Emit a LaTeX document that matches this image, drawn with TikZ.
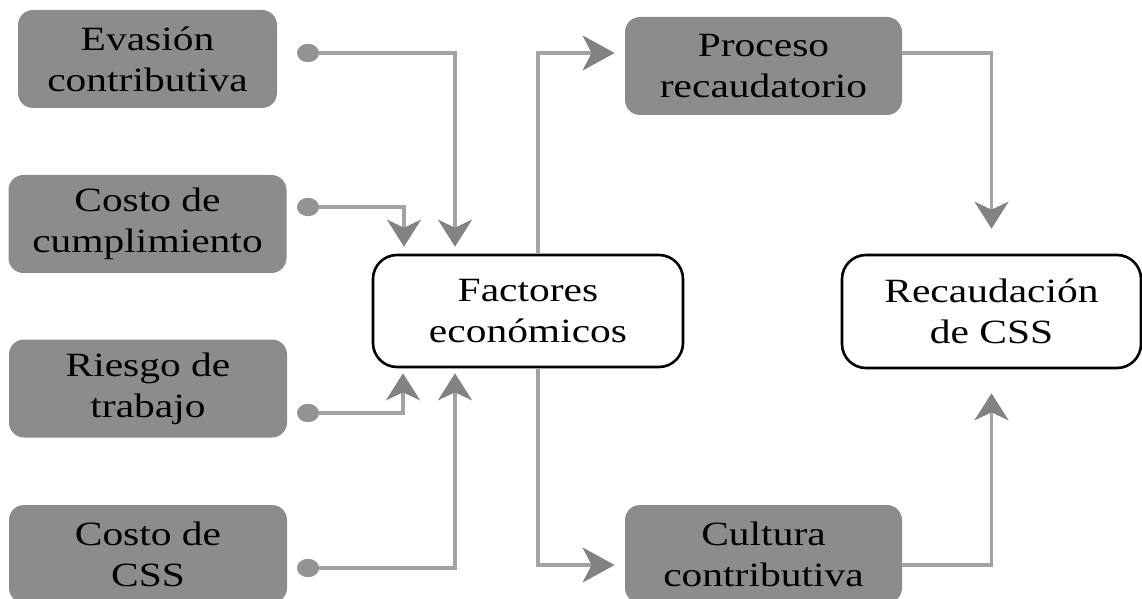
\documentclass[tikz,border=0pt]{standalone}
\usepackage{fontspec}
\setmainfont{Liberation Serif}[FakeStretch=1.22]
\usepackage{xcolor}
\usetikzlibrary{arrows.meta,calc}

\definecolor{boxgray}{RGB}{140,140,140}
\definecolor{linegray}{RGB}{163,163,163}
\definecolor{tipgray}{RGB}{130,130,130}

\begin{document}
\begin{tikzpicture}[x=0.5pt, y=-0.5pt,
    factor/.style={fill=boxgray, rounded corners=7.5pt, align=center, inner sep=0pt,
        minimum width=139pt, minimum height=49pt, font=\fontsize{17}{20.5}\selectfont},
    target/.style={draw=black, line width=1.3pt, fill=white, rounded corners=12pt, align=center,
        inner sep=0pt, minimum height=56pt, font=\fontsize{17}{20.5}\selectfont},
    vlink/.style={draw=linegray, line width=1.6pt,
        -{Stealth[length=13.5pt, width=17pt, inset=4pt, color=tipgray]}},
    hlink/.style={draw=linegray, line width=1.6pt,
        -{Stealth[length=16pt, width=17.5pt, inset=4.5pt, color=tipgray]}}]
    \fill[white] (0,0) rectangle (1142,599);
    \useasboundingbox (0,0) rectangle (1142,599);

    % Input factors (left column)
    \node[factor, minimum width=129.5pt] (evasion) at (147.5,59) {Evasión\\contributiva};
    \node[factor] (cumpl) at (147.5,224) {Costo de\\cumplimiento};
    \node[factor] (riesgo) at (148,388.5) {Riesgo de\\trabajo};
    \node[factor] (costo) at (148,554) {Costo de\\CSS};

    % Central and result nodes
    \node[target, minimum width=155pt] (fact) at (528,311) {Factores\\económicos};
    \node[target, minimum width=149.5pt, minimum height=56.5pt] (recaud) at (991.5,311.5) {Recaudación\\de CSS};

    % Intermediate nodes
    \node[factor, minimum width=138.5pt] (proc) at (763.5,66) {Proceso\\recaudatorio};
    \node[factor, minimum width=138.5pt] (cult) at (763.5,554) {Cultura\\contributiva};

    % Dot starts
    \coordinate (d1) at (308,53);
    \coordinate (d2) at (308,207);
    \coordinate (d3) at (308,413);
    \coordinate (d4) at (308,568);

    % Inputs to factors
    \draw[vlink, shorten >=3.5pt] (d1) -| ($(fact.north)+(-73,0)$);
    \draw[vlink, shorten >=3.5pt] (d2) -| ($(fact.north)+(-124,0)$);
    \draw[vlink, shorten >=2.5pt] (d3) -| ($(fact.south)+(-125,0)$);
    \draw[vlink, shorten >=2.5pt] (d4) -| ($(fact.south)+(-73,0)$);
    \foreach \d in {d1,d2,d3,d4}
        \fill[linegray!90!black] (\d) ellipse [x radius=5.5pt, y radius=4.6pt];

    % Factors to intermediate nodes
    \draw[hlink, shorten >=5pt] ($(fact.north)+(10,0)$) |- ($(proc.west)+(0,-13)$);
    \draw[hlink, shorten >=5pt] ($(fact.south)+(10,0)$) |- ($(cult.west)+(0,11)$);

    % Intermediate nodes to result
    \draw[vlink, shorten >=12.5pt] ($(proc.east)+(0,-13)$) -| (recaud.north);
    \draw[vlink, shorten >=12pt] ($(cult.east)+(0,11)$) -| (recaud.south);
\end{tikzpicture}
\end{document}
